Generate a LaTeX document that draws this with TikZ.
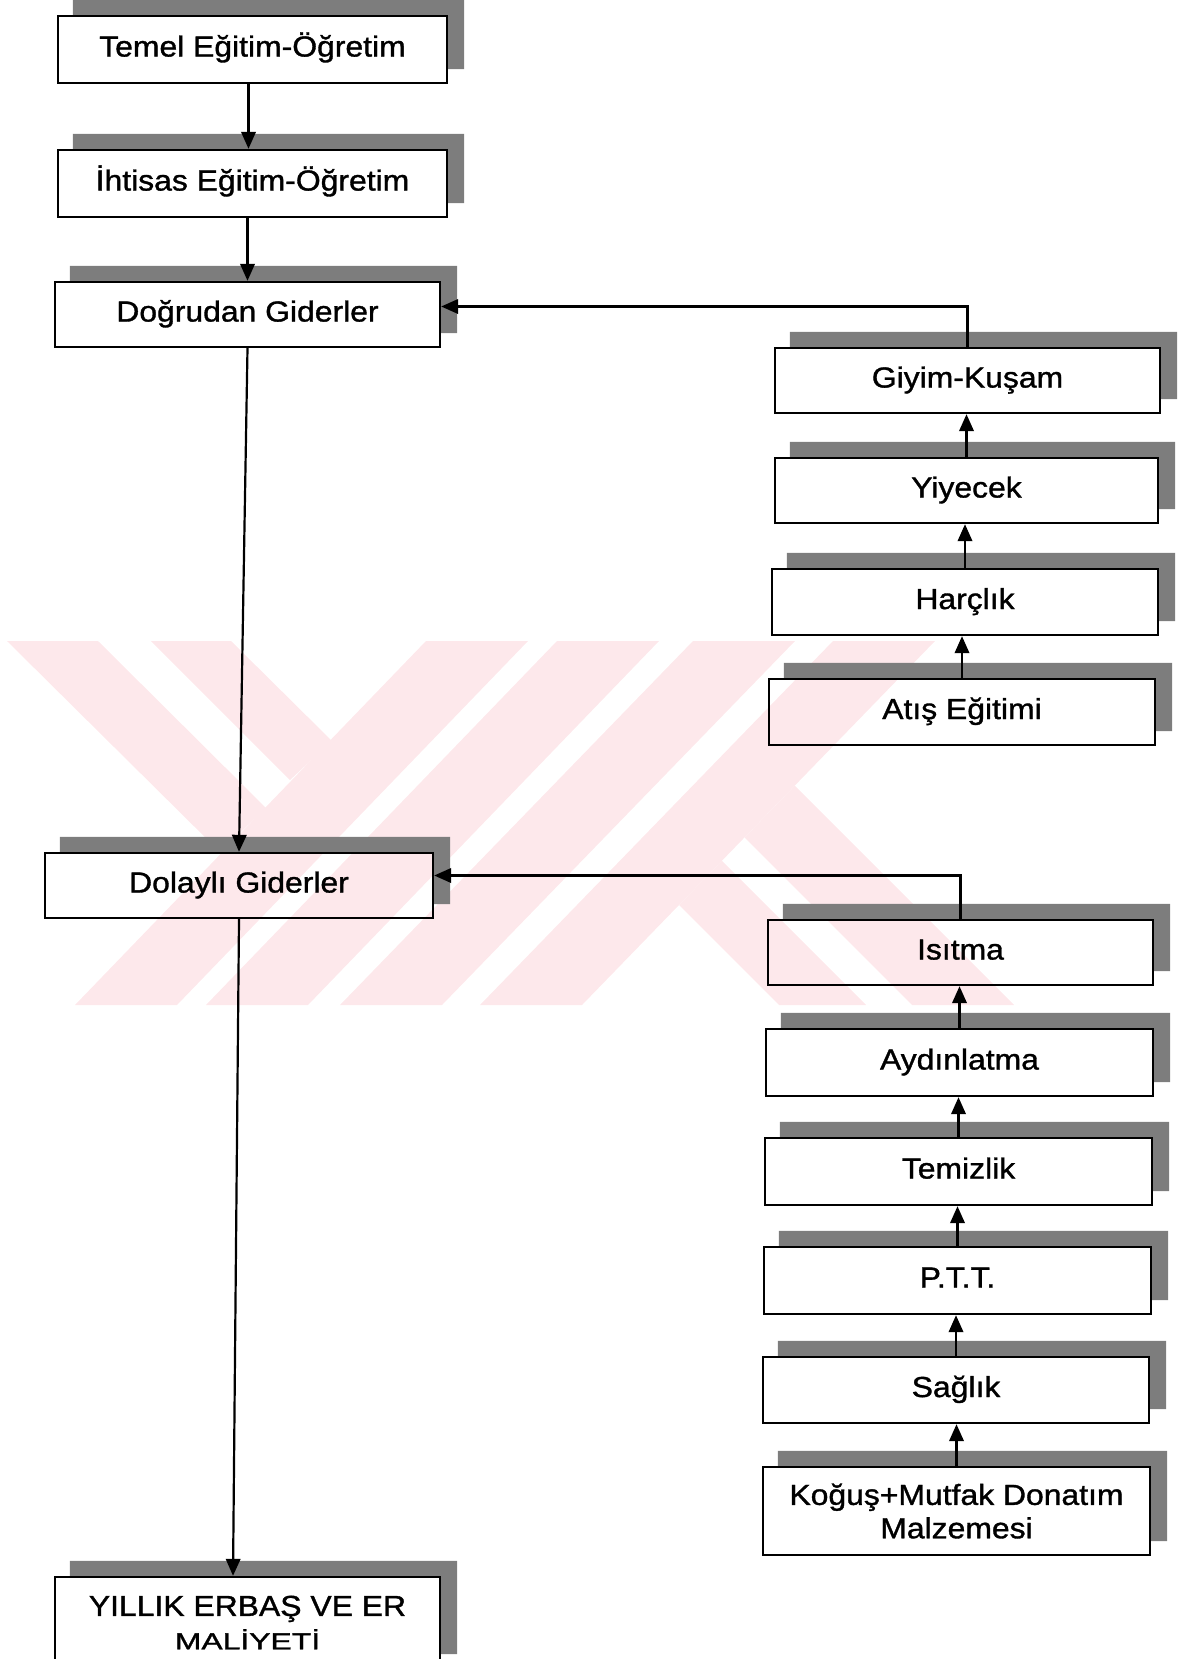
\documentclass[tikz,border=0pt]{standalone}
\usepackage{graphicx}
\usepackage{fontspec}
\setmainfont{Liberation Sans}[FakeStretch=1.1,FakeBold=1.2]
\usetikzlibrary{arrows.meta}
\pgfdeclarelayer{wm}
\pgfdeclarelayer{bg}
\pgfsetlayers{wm,bg,main}
\definecolor{wmc}{RGB}{253,232,235}
\definecolor{shc}{RGB}{125,125,125}
\newcommand\bx[7][one]{\node[box,#1,minimum width={(#5-#3)*0.02cm},minimum height={(#6-#4)*0.02cm}] (#2) at ({(#3+#5)/2},{(#4+#6)/2}) {#7};}
\newcommand\shd[1]{\fill[shc] ([xshift=0.32cm]#1.north west) -- ([shift={(0.32cm,0.3cm)}]#1.north west) -- ([shift={(0.32cm,0.3cm)}]#1.north east) -- ([shift={(0.32cm,0.3cm)}]#1.south east) -- ([yshift=0.3cm]#1.south east) -- (#1.north east) -- cycle;}
\begin{document}
\begin{tikzpicture}[x=0.02cm,y=-0.02cm,
  box/.style={draw,line width=1.35pt,inner sep=0pt,align=center,font=\fontsize{16.5}{19}\selectfont},
  one/.style={text height=12pt,text depth=4pt},
  conn/.style={line width=1.25pt,-{Triangle[length=0.34cm,width=0.29cm]}}]
\useasboundingbox (0,0) rectangle (1184,1659);
% watermark
\begin{pgfonlayer}{wm}
\fill[wmc] (75,1005) -- (177,1005) -- (528,641) -- (426,641) -- cycle;
\fill[wmc] (206,1005) -- (308,1005) -- (659,641) -- (557,641) -- cycle;
\fill[wmc] (340,1005) -- (442,1005) -- (795,641) -- (693,641) -- cycle;
\fill[wmc] (480,1005) -- (582,1005) -- (935,641) -- (833,641) -- cycle;
\fill[wmc] (7,641) -- (98,641) -- (266,808) -- (220,852) -- cycle;
\fill[wmc] (151,641) -- (231,641) -- (332,741) -- (290,780) -- cycle;
\fill[wmc] (779,1005) -- (866,1005) -- (721.8,860.8) -- (679,905) -- cycle;
\fill[wmc] (912,1005) -- (1014,1005) -- (794.7,785.7) -- (744.5,837.5) -- cycle;
\end{pgfonlayer}
% boxes
\bx{temel}{58}{16}{447}{83}{Temel Eğitim-Öğretim}
\bx{ihtisas}{58}{150}{447}{217}{İhtisas Eğitim-Öğretim}
\bx{dogrudan}{55}{282}{440}{347}{Doğrudan Giderler}
\bx{dolayli}{45}{853}{433}{918}{Dolaylı Giderler}
\bx[]{yillik}{55}{1577}{440}{1668}{YILLIK ERBAŞ VE ER\\\scalebox{1}[0.8]{MALİYETİ}}
\bx{giyim}{775}{348}{1160}{413}{Giyim-Kuşam}
\bx{yiyecek}{775}{458}{1158}{523}{Yiyecek}
\bx{harclik}{772}{569}{1158}{635}{Harçlık}
\bx{atis}{769}{679}{1155}{745}{Atış Eğitimi}
\bx{isitma}{768}{920}{1153}{985}{Isıtma}
\bx{aydinlatma}{766}{1029}{1153}{1096}{Aydınlatma}
\bx{temizlik}{765}{1138}{1152}{1205}{Temizlik}
\bx{ptt}{764}{1247}{1151}{1314}{P.T.T.}
\bx{saglik}{763}{1357}{1149}{1423}{Sağlık}
\bx[]{kogus}{763}{1467}{1150}{1555}{Koğuş+Mutfak Donatım\\Malzemesi}
% shadows
\begin{pgfonlayer}{bg}
\foreach \n in {temel,ihtisas,dogrudan,dolayli,yillik,giyim,yiyecek,harclik,atis,isitma,aydinlatma,temizlik,ptt,saglik,kogus}{\shd{\n}}
\end{pgfonlayer}
% connectors
\draw[conn] ([xshift=-0.08cm]temel.south) -- ([xshift=-0.08cm]ihtisas.north);
\draw[conn] (dogrudan.north |- ihtisas.south) -- (dogrudan.north);
\draw[conn] (dogrudan.south) -- (dolayli.north);
\draw[conn] (dolayli.south) -- ([xshift=-0.29cm]yillik.north);
\draw[conn] (giyim.north) |- ([yshift=0.16cm]dogrudan.east);
\draw[conn] (isitma.north) |- ([yshift=0.2cm]dolayli.east);
\draw[conn] (yiyecek.north) -- (yiyecek.north |- giyim.south);
\draw[conn] (harclik.north) -- (harclik.north |- yiyecek.south);
\draw[conn] (atis.north) -- (atis.north |- harclik.south);
\draw[conn] (aydinlatma.north) -- (aydinlatma.north |- isitma.south);
\draw[conn] (temizlik.north) -- (temizlik.north |- aydinlatma.south);
\draw[conn] (ptt.north) -- (ptt.north |- temizlik.south);
\draw[conn] (saglik.north) -- (saglik.north |- ptt.south);
\draw[conn] (kogus.north) -- (kogus.north |- saglik.south);
\end{tikzpicture}
\end{document}
